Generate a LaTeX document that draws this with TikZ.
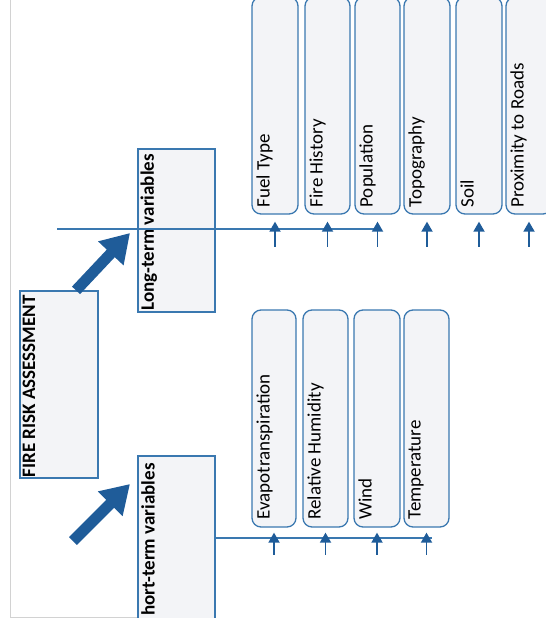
\documentclass[tikz,border=0pt]{standalone}
\usepackage{fontspec}
\setmainfont{Carlito}
\usetikzlibrary{arrows.meta}
\definecolor{bord}{HTML}{3A78B0}
\definecolor{boxfill}{HTML}{F3F4F7}
\definecolor{arrblue}{HTML}{1F5C99}
\begin{document}
\begin{tikzpicture}[x=1pt,y=-1pt,
  frame/.style={draw=bord, fill=boxfill, line width=1.3pt, inner sep=0pt},
  pill/.style={frame, rounded corners=9pt},
  lbl/.style={rotate=90, anchor=north west, inner sep=0pt, font=\fontsize{19}{22}\selectfont},
  blbl/.style={lbl, font=\fontsize{19}{22}\selectfont\bfseries},
  hline/.style={draw=bord, line width=1.3pt},
  smallarr/.style={draw=arrblue, line width=1.8pt, -{Triangle[length=10pt 0 0, width=11pt 0 0]}},
  bigarr/.style={draw=arrblue, line width=11pt, -{Triangle[length=28pt 0 0, width=33pt 0 0]}},
  edge/.style={draw=gray!35, line width=0.8pt}]
\useasboundingbox (0,0) rectangle (546,630);
\draw[edge] (10,0) -- (10,617) -- (216,617);
\begin{scope}
\clip (10,0) rectangle (546,617);
% main boxes
\node[frame, minimum width=78pt, minimum height=187pt] (fra) at (59,384.5) {};
\node[blbl] (fral) at ([xshift=3pt,yshift=1pt]fra.south west) {FIRE RISK ASSESSMENT};
\node[frame, minimum width=77pt, minimum height=163pt] (lt) at (176.5,230.5) {};
\node[blbl] (ltl) at ([xshift=3pt,yshift=2pt]lt.south west) {Long-term variables};
\node[frame, minimum width=77pt, minimum height=184pt] (st) at (176.5,548) {};
\node[blbl] (stl) at (141,616) {hort-term variables};
% long-term factors
\node[pill, minimum width=46pt, minimum height=217pt] (ft) at (275,105.5) {};
\node[pill, minimum width=45pt, minimum height=217pt] (fh) at (327.5,105.5) {};
\node[pill, minimum width=45pt, minimum height=217pt] (pop) at (377.5,105.5) {};
\node[pill, minimum width=46pt, minimum height=217pt] (topo) at (427,105.5) {};
\node[pill, minimum width=46pt, minimum height=217pt] (soil) at (479,105.5) {};
\node[pill, minimum width=46pt, minimum height=217pt] (prox) at (529,105.5) {};
\node[lbl] (ftl) at ([xshift=5pt,yshift=7pt]ft.south west) {Fuel Type};
\node[lbl] (fhl) at ([xshift=5pt,yshift=7pt]fh.south west) {Fire History};
\node[lbl] (popl) at ([xshift=5pt,yshift=7pt]pop.south west) {Population};
\node[lbl] (topol) at ([xshift=5pt,yshift=7pt]topo.south west) {Topography};
\node[lbl] (soill) at ([xshift=5pt,yshift=7pt]soil.south west) {Soil};
\node[lbl] (proxl) at ([xshift=5pt,yshift=7pt]prox.south west) {Proximity to Roads};
% short-term factors
\node[pill, minimum width=44pt, minimum height=217pt] (evap) at (274,418.5) {};
\node[pill, minimum width=45pt, minimum height=217pt] (rh) at (325.5,418.5) {};
\node[pill, minimum width=46pt, minimum height=217pt] (wind) at (377,418.5) {};
\node[pill, minimum width=45pt, minimum height=217pt] (temp) at (426.5,418.5) {};
\node[lbl] (evapl) at ([xshift=5pt,yshift=8pt]evap.south west) {Evapotranspiration};
\node[lbl] (rhl) at ([xshift=5pt,yshift=8pt]rh.south west) {Relative Humidity};
\node[lbl] (windl) at ([xshift=5pt,yshift=8pt]wind.south west) {Wind};
\node[lbl] (templ) at ([xshift=5pt,yshift=8pt]temp.south west) {Temperature};
% horizontal lines
\coordinate (lstart) at (57,229);
\coordinate (lend) at (378,229);
\draw[hline] (lstart) -- (lend);
\coordinate (send) at (432,538);
\draw[hline] (st.east |- send) -- (send);
% small arrows
\foreach \b in {ft,fh,pop,topo,soil,prox}
  \draw[smallarr] ([yshift=-32pt]\b.south) -- ([yshift=-7pt]\b.south);
\foreach \b in {evap,rh,wind,temp}
  \draw[smallarr] ([yshift=-27pt]\b.south) -- ([yshift=-5pt]\b.south);
% big arrows
\coordinate (a1s) at ([xshift=17pt]fra.north);
\coordinate (a1e) at (130,233);
\draw[bigarr] (a1s) -- (a1e);
\coordinate (a2s) at (73,541);
\coordinate (a2e) at (130,484);
\draw[bigarr] (a2s) -- (a2e);
\end{scope}
\end{tikzpicture}
\end{document}
